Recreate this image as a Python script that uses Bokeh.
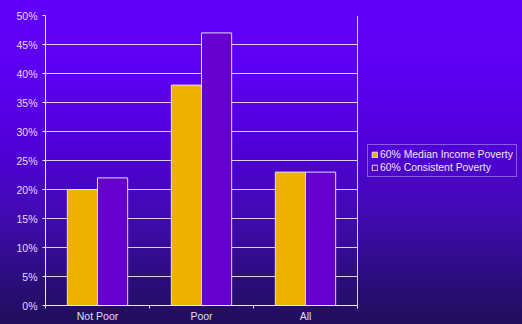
from bokeh.plotting import figure
from bokeh.models import ColumnDataSource, FixedTicker, Legend, LegendItem, Range1d, NumeralTickFormatter, Span
from bokeh.embed import file_html
from bokeh.resources import INLINE

categories = ["Not Poor", "Poor", "All"]
median_income = [20, 38, 23]
consistent = [22, 47, 23]
series_names = ["60% Median Income Poverty", "60% Consistent Poverty"]
y_ticks = [0, 5, 10, 15, 20, 25, 30, 35, 40, 45, 50]

n = len(categories)
centers = [i + 0.5 for i in range(n)]
bar_w = 0.29
src = ColumnDataSource(dict(
    x1=[c - bar_w / 2 for c in centers],
    x2=[c + bar_w / 2 for c in centers],
    a=[v / 100 for v in median_income],
    b=[v / 100 for v in consistent],
))

# plot area of the categories is 312 px wide; the frame runs on to the right edge (477 px)
x_end = n * 477 / 312

p = figure(width=522, height=324, output_backend="svg", toolbar_location=None,
           x_range=Range1d(0, x_end), y_range=Range1d(0, 0.5),
           min_border_left=45, min_border_right=0, min_border_top=15, min_border_bottom=19)
p.background_fill_color = None
p.border_fill_color = None
p.outline_line_color = None
p.styles = {"background-image": "linear-gradient(to bottom, #6100FA 0%, #5C00F0 25%, #5000D8 45%, #420AB4 65%, #300C88 82%, #200E5A 100%)"}

r1 = p.vbar(x="x1", top="a", width=bar_w, bottom=0, source=src,
            fill_color="#F0B000", line_color="#E4DCF8", line_width=1)
r2 = p.vbar(x="x2", top="b", width=bar_w, bottom=0, source=src,
            fill_color="#6600CC", line_color="#E4DCF8", line_width=1)

p.add_layout(Span(location=n, dimension="height", line_color="#D8D0F4", line_width=1))

p.xgrid.visible = False
p.ygrid.grid_line_color = "#D8D0F4"
p.ygrid.grid_line_width = 1
p.ygrid.ticker = FixedTicker(ticks=[t / 100 for t in y_ticks])
p.ygrid.cross_bounds = (0, n)

p.yaxis.ticker = FixedTicker(ticks=[t / 100 for t in y_ticks])
p.yaxis.formatter = NumeralTickFormatter(format="0%")
p.yaxis.axis_line_color = "#ECE8FF"
p.yaxis.major_tick_line_color = "#ECE8FF"
p.yaxis.major_tick_out = 3
p.yaxis.major_tick_in = 0
p.yaxis.minor_tick_line_color = None
p.yaxis.major_label_text_color = "#E4DCF8"
p.yaxis.major_label_text_font = "Liberation Sans"
p.yaxis.major_label_text_font_size = "10.5px"
p.yaxis.major_label_standoff = 5

p.xaxis.ticker = FixedTicker(ticks=centers, minor_ticks=list(range(n + 1)))
p.xaxis.major_label_overrides = {c: name for c, name in zip(centers, categories)}
p.xaxis.bounds = (0, n)
p.xaxis.axis_line_color = "#ECE8FF"
p.xaxis.major_tick_line_color = None
p.xaxis.minor_tick_line_color = "#ECE8FF"
p.xaxis.minor_tick_out = 3
p.xaxis.minor_tick_in = 0
p.xaxis.major_tick_out = 0
p.xaxis.major_tick_in = 0
p.xaxis.major_label_text_color = "#E4DCF8"
p.xaxis.major_label_text_font = "Liberation Sans"
p.xaxis.major_label_text_font_size = "10.5px"
p.xaxis.major_label_standoff = 1

legend = Legend(items=[LegendItem(label=series_names[0], renderers=[r1]),
                       LegendItem(label=series_names[1], renderers=[r2])],
                location=(322, 128), orientation="vertical")
legend.background_fill_alpha = 0
legend.border_line_color = "#C8B8F4"
legend.border_line_width = 1
legend.label_text_color = "#ECE6FF"
legend.label_text_font = "Liberation Sans"
legend.label_text_font_size = "10.4px"
legend.glyph_width = 7
legend.glyph_height = 7
legend.label_height = 12
legend.label_standoff = 2
legend.spacing = 1
legend.padding = 3
legend.margin = 0
p.add_layout(legend, "center")

open("out.html", "w").write(file_html(p, INLINE))
